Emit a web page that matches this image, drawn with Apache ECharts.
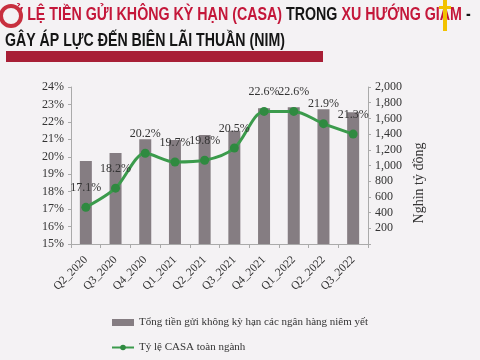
<!DOCTYPE html>
<html><head><meta charset="utf-8">
<script src="https://cdn.jsdelivr.net/npm/echarts@6/dist/echarts.min.js"></script>
<style>html,body{margin:0;padding:0;background:#f4f2f4;}#c{width:480px;height:360px;}</style>
</head><body><div id="c"></div>
<script>
var categories = ['Q2_2020','Q3_2020','Q4_2020','Q1_2021','Q2_2021','Q3_2021','Q4_2021','Q1_2022','Q2_2022','Q3_2022'];
var depositValues = [1057, 1159, 1333, 1325, 1388, 1443, 1728, 1741, 1716, 1677];
var casaRatio = [17.1, 18.2, 20.2, 19.7, 19.8, 20.5, 22.6, 22.6, 21.9, 21.3];
var barName = 'Tổng tiền gửi không kỳ hạn các ngân hàng niêm yết';
var lineName = 'Tỷ lệ CASA toàn ngành';
var rightAxisName = 'Nghìn tỷ đồng';

var chart = echarts.init(document.getElementById('c'), null, {renderer:'canvas'});
var serif = "'Liberation Serif','DejaVu Serif',serif";
var sans = "'Liberation Sans',Arial,sans-serif";
chart.setOption({
  backgroundColor: '#f4f2f4',
  animation: false,
  graphic: [
    {type:'text', x: 5, y: 5, scaleX: 0.75, style:{
      text: '{r|TỶ LỆ TIỀN GỬI KHÔNG KỲ HẠN (CASA)} {k|TRONG} {r|XU HƯỚNG GIẢM} {k|-}',
      rich:{ r:{fill:'#c4173a', font:"bold 19px "+sans}, k:{fill:'#151515', font:"bold 19px "+sans} },
      font: "bold 19px "+sans, verticalAlign:'top'
    }},
    {type:'text', x: 5, y: 31, scaleX: 0.745, style:{ text:'GÂY ÁP LỰC ĐẾN BIÊN LÃI THUẦN (NIM)', fill:'#151515', font:"bold 19px "+sans, verticalAlign:'top' }},
    {type:'rect', shape:{x:6, y:51, width:317, height:11}, style:{fill:'#a81f36'}},
    {type:'circle', shape:{cx:11, cy:16, r:10}, style:{fill:'#f4f2f4', stroke:'#c8303f', lineWidth:4}},
    {type:'rect', shape:{x:443, y:0, width:4, height:31}, style:{fill:'#f2c200'}},
    {type:'rect', shape:{x:439, y:6, width:12, height:3}, style:{fill:'#f2c200'}},
    {type:'text', x: 419, y: 183, rotation: Math.PI/2, style:{ text: rightAxisName, fill:'#333',
      font: "14px "+serif, align:'center', verticalAlign:'middle' }}
  ],
  grid: {left: 71, right: 112, top: 87, bottom: 116},
  legend: {
    orient:'vertical', left: 106, top: 312, itemGap: 14, itemWidth: 22, itemHeight: 7,
    textStyle:{fontFamily: serif, fontSize: 11, color:'#333'},
    data:[{name: barName, icon:'rect'}, {name: lineName}]
  },
  xAxis: {
    type:'category', data: categories,
    axisLine:{lineStyle:{color:'#aaa'}},
    axisTick:{show:true, length:4, lineStyle:{color:'#aaa'}},
    axisLabel:{rotate:45, fontFamily: serif, fontSize: 11.5, color:'#333', margin: 14, interval:0}
  },
  yAxis: [
    {type:'value', min:15, max:24, interval:1, splitLine:{show:false},
     axisLine:{show:true, lineStyle:{color:'#aaa'}},
     axisTick:{show:true, length:3, lineStyle:{color:'#aaa'}},
     axisLabel:{formatter:'{value}%', fontFamily: serif, fontSize: 12, color:'#333', margin: 7}},
    {type:'value', min:0, max:2000, interval:200, splitLine:{show:false},
     axisLine:{show:true, lineStyle:{color:'#aaa'}},
     axisTick:{show:true, length:3, lineStyle:{color:'#aaa'}},
     axisLabel:{fontFamily: serif, fontSize: 12, color:'#333', margin: 7,
       formatter:function(v){ return v===0 ? '' : v.toLocaleString('en-US'); }}}
  ],
  series: [
    {name: barName, type:'bar', yAxisIndex:1, data: depositValues, barWidth: 12,
     itemStyle:{color:'#857d82'}},
    {name: lineName, type:'line', yAxisIndex:0, data: casaRatio, smooth: 0.3,
     symbol:'circle', symbolSize: 9,
     lineStyle:{color:'#3b9b4c', width:3}, itemStyle:{color:'#2f8a40'},
     label:{show:true, position:'top', distance: 9, fontFamily: serif, fontSize: 12, color:'#333',
       formatter: function(p){ return p.value.toFixed(1) + '%'; }}}
  ]
});
</script></body></html>
